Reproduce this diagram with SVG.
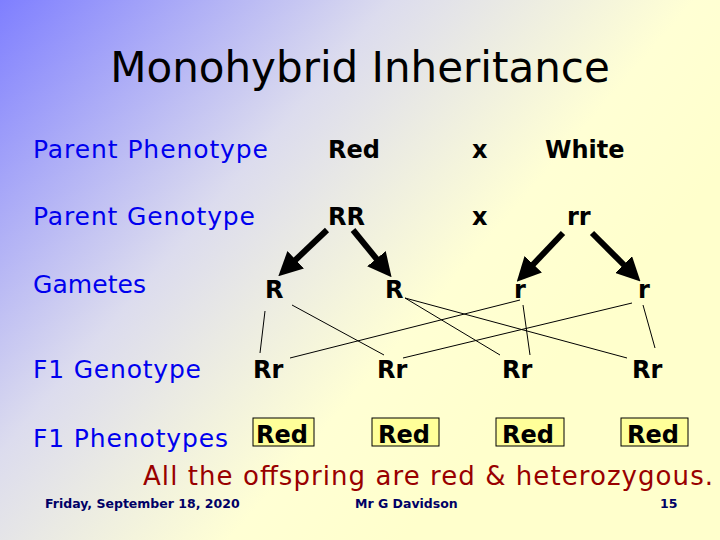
<svg xmlns="http://www.w3.org/2000/svg" width="720" height="540" viewBox="0 0 720 540">
<defs>
<linearGradient id="bg" x1="0" y1="0" x2="0.85" y2="0.55">
<stop offset="0" stop-color="#7f7fff"/>
<stop offset="0.45" stop-color="#dcdcee"/>
<stop offset="0.8" stop-color="#ffffd4"/>
<stop offset="1" stop-color="#ffffcc"/>
</linearGradient>
<marker id="ah" markerWidth="4" markerHeight="4" refX="2" refY="2" orient="auto" markerUnits="strokeWidth"><path d="M0,0 L4,2 L0,4 Z" fill="#000"/></marker>
<style>
text{font-family:"DejaVu Sans","Liberation Sans",sans-serif}
.lab{fill:#0000ee;font-size:25px}
.v{fill:#000;font-size:24px;font-weight:bold}
.box{fill:#ffff99;stroke:#000;stroke-width:1}
.thin{stroke:#000;stroke-width:1;fill:none}
.thick{stroke:#000;stroke-width:6;fill:none;marker-end:url(#ah)}
.foot{fill:#000066;font-size:12.5px;font-weight:bold}
</style>
</defs>
<rect width="720" height="540" fill="url(#bg)"/>
<text x="360" y="82" text-anchor="middle" font-size="42" fill="#000">Monohybrid Inheritance</text>
<g id="labels">
<text class="lab" x="33" y="158" textLength="235">Parent Phenotype</text>
<text class="lab" x="33" y="225" textLength="222">Parent Genotype</text>
<text class="lab" x="33" y="293" textLength="113">Gametes</text>
<text class="lab" x="33" y="378" textLength="168">F1 Genotype</text>
<text class="lab" x="33" y="447" textLength="195">F1 Phenotypes</text>
</g>
<g id="phenotypes">
<text class="v" x="328" y="158">Red</text>
<text class="v" x="472" y="158">x</text>
<text class="v" x="545" y="158">White</text>
</g>
<g id="RR"><text class="v" x="328" y="225">RR</text></g>
<g id="cross"><text class="v" x="472" y="225">x</text></g>
<g id="rr"><text class="v" x="567" y="225">rr</text></g>
<g id="gR1"><text class="v" x="265" y="298">R</text></g>
<g id="gR2"><text class="v" x="385" y="298">R</text></g>
<g id="gr1"><text class="v" x="514" y="298">r</text></g>
<g id="gr2"><text class="v" x="638" y="298">r</text></g>
<g id="f1"><text class="v" x="253" y="378">Rr</text></g>
<g id="f2"><text class="v" x="377" y="378">Rr</text></g>
<g id="f3"><text class="v" x="502" y="378">Rr</text></g>
<g id="f4"><text class="v" x="632" y="378">Rr</text></g>
<g id="p1"><rect class="box" x="253" y="418" width="61" height="28"/><text class="v" x="256" y="443">Red</text></g>
<g id="p2"><rect class="box" x="372" y="418" width="67" height="28"/><text class="v" x="378" y="443">Red</text></g>
<g id="p3"><rect class="box" x="496" y="418" width="68" height="28"/><text class="v" x="502" y="443">Red</text></g>
<g id="p4"><rect class="box" x="621" y="418" width="67" height="28"/><text class="v" x="627" y="443">Red</text></g>
<g id="connectors">
<line class="thick" x1="327" y1="230" x2="287" y2="268"/>
<line class="thick" x1="353" y1="230" x2="384" y2="268"/>
<line class="thick" x1="563" y1="233" x2="525" y2="273"/>
<line class="thick" x1="592" y1="233" x2="632" y2="273"/>
<line class="thin" x1="265" y1="311" x2="260" y2="353"/>
<line class="thin" x1="292" y1="305" x2="384" y2="355"/>
<line class="thin" x1="405" y1="298" x2="500" y2="355"/>
<line class="thin" x1="405" y1="298" x2="627" y2="358"/>
<line class="thin" x1="520" y1="300" x2="290" y2="358"/>
<line class="thin" x1="523" y1="305" x2="530" y2="355"/>
<line class="thin" x1="632" y1="303" x2="403" y2="358"/>
<line class="thin" x1="643" y1="305" x2="655" y2="348"/>
</g>
<text x="143" y="485" font-size="26" fill="#990000" textLength="570">All the offspring are red &amp; heterozygous.</text>
<text class="foot" x="45" y="508">Friday, September 18, 2020</text>
<text class="foot" x="355" y="508">Mr G Davidson</text>
<text class="foot" x="660" y="508">15</text>
</svg>
